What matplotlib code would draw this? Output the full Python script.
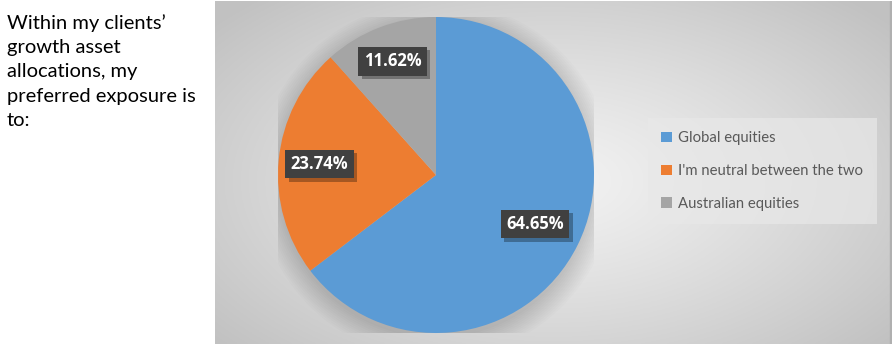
import numpy as np
import matplotlib
matplotlib.use("Agg")
import matplotlib.pyplot as plt
from matplotlib.patches import Circle, Rectangle
import matplotlib.patheffects as pe

categories = ["Global equities", "I'm neutral between the two", "Australian equities"]
values = [64.65, 23.74, 11.62]
colors = ["#5B9BD5", "#ED7D31", "#A5A5A5"]
title_text = "Within my clients\u2019\ngrowth asset\nallocations, my\npreferred exposure is\nto:"

W, H = 894, 344
fig = plt.figure(figsize=(W / 100, H / 100), dpi=100)
fig.patch.set_facecolor("white")

# background panel with radial gradient
px0, px1 = 215, 892
bg = fig.add_axes([px0 / W, 0, (px1 - px0) / W, 343 / H])
nx, ny = 400, 200
xx, yy = np.meshgrid(np.linspace(-1, 1, nx), np.linspace(-1, 1, ny))
d = np.sqrt(((xx - 0.0) / 1.0) ** 2 + ((yy + 0.05) / 1.1) ** 2)
d = np.clip(d / 1.3, 0, 1)
c0, c1 = 0.95, 0.76
img = c0 + (c1 - c0) * d ** 1.2
bg.imshow(np.dstack([img, img, img]), aspect="auto", extent=[0, 1, 0, 1], origin="lower")
bg.set_axis_off()
bg.add_patch(Rectangle((0.997, 0), 0.003, 1, color="#b0b0b0", transform=bg.transAxes))

# pie
cx, cy, r = 436, H - 175, 158
ax = fig.add_axes([(cx - r) / W, (cy - r) / H, 2 * r / W, 2 * r / H])
ax.set_xlim(-1, 1)
ax.set_ylim(-1, 1)
ax.set_axis_off()
# soft shadow
for i in range(12):
    ax.add_patch(Circle((0.0, -0.03), 1.0 + 0.012 * i, color="black", alpha=0.012, lw=0, zorder=0))
wedges, _ = ax.pie(values, colors=colors, startangle=90, counterclock=False, radius=1.0,
                   wedgeprops=dict(linewidth=0))
for w in wedges:
    w.set_zorder(2)
ax.set_xlim(-1, 1)
ax.set_ylim(-1, 1)

dists = [0.70, 0.74, 0.77]
for w, v, dist in zip(wedges, values, dists):
    ang = np.deg2rad((w.theta1 + w.theta2) / 2)
    x, y = dist * np.cos(ang), dist * np.sin(ang)
    t = ax.text(x, y, f"{v:.2f}%", color="white", fontsize=12, fontweight="bold",
                family="Open Sans", ha="center", va="center", zorder=4,
                bbox=dict(boxstyle="square,pad=0.32", fc="#404040", ec="none"))
    t.get_bbox_patch().set_path_effects([
        pe.SimplePatchShadow(offset=(2.5, -2.5), shadow_rgbFace="black", alpha=0.3),
        pe.Normal()])

# legend
leg = fig.legend(wedges, categories, loc="center left", bbox_to_anchor=(645 / W, (H - 171) / H),
                 frameon=True, labelspacing=1.25, handlelength=0.7, handleheight=0.7,
                 handletextpad=0.45, borderpad=0.6, prop=dict(family="Lato", size=10.7))
fr = leg.get_frame()
fr.set_facecolor("#e8e8e8")
fr.set_alpha(0.7)
fr.set_edgecolor("none")
fr.set_boxstyle("square")
for t in leg.get_texts():
    t.set_color("#595959")

# left text
fig.text(7 / W, 1 - 14 / H, title_text, ha="left", va="top", fontsize=14.5, family="Lato",
         color="black", linespacing=1.52)

fig.savefig("out.png", dpi=100)
